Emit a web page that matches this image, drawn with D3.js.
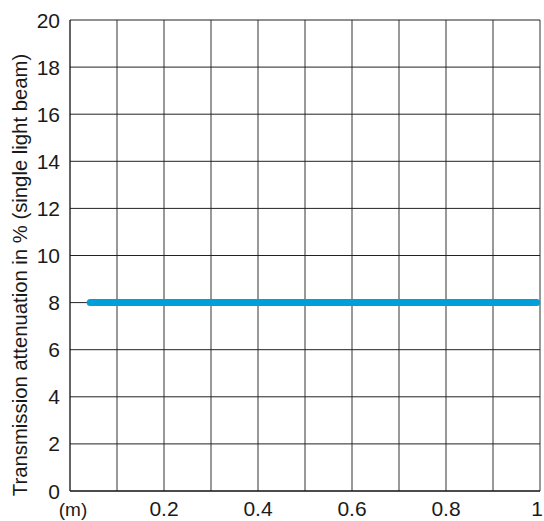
<!DOCTYPE html>
<html><head><meta charset="utf-8">
<script src="https://cdn.jsdelivr.net/npm/d3@7"></script>
<style>body{margin:0;background:#fff}text{font-family:"Liberation Sans",Arial,sans-serif;fill:#1a1a1a}</style>
</head><body><svg id="c" width="544" height="521"></svg>
<script>
const xTicks = [0.2, 0.4, 0.6, 0.8, 1];
const xGrid = [0.1,0.2,0.3,0.4,0.5,0.6,0.7,0.8,0.9,1];
const yTicks = [0,2,4,6,8,10,12,14,16,18,20];
const seriesX = [0.043, 0.993];
const seriesY = [8, 8];
const yLabel = "Transmission attenuation in % (single light beam)";
const xUnit = "(m)";

const svg = d3.select("#c");
const L=70, R=540, T=20, B=491;
const x = d3.scaleLinear().domain([0,1]).range([L,R]);
const y = d3.scaleLinear().domain([0,20]).range([B,T]);

svg.append("g").selectAll("line").data(xGrid).join("line")
  .attr("x1",d=>x(d)).attr("x2",d=>x(d)).attr("y1",T).attr("y2",B)
  .attr("stroke","#555").attr("stroke-width",1.2);
svg.append("g").selectAll("line").data(yTicks.filter(d=>d>0)).join("line")
  .attr("x1",L).attr("x2",R).attr("y1",d=>y(d)).attr("y2",d=>y(d))
  .attr("stroke","#222").attr("stroke-width",1);
svg.append("line").attr("x1",L).attr("x2",R).attr("y1",B).attr("y2",B).attr("stroke","#111").attr("stroke-width",1.3);
svg.append("line").attr("x1",L).attr("x2",L).attr("y1",T).attr("y2",B).attr("stroke","#111").attr("stroke-width",1.3);

svg.append("g").selectAll("text").data(yTicks).join("text")
  .attr("x",60).attr("y",d=>y(d)+7.5).attr("text-anchor","end").attr("font-size",21).text(d=>d);
svg.append("g").selectAll("text").data(xTicks).join("text")
  .attr("x",d=>d===1 ? x(d)+3 : x(d)).attr("y",516)
  .attr("text-anchor",d=>d===1 ? "end" : "middle").attr("font-size",21).text(d=>d);
svg.append("text").attr("x",73).attr("y",516).attr("text-anchor","middle").attr("font-size",19).text(xUnit);
svg.append("text").attr("transform",`translate(27,275) rotate(-90)`).attr("text-anchor","middle")
  .attr("font-size",20.3).text(yLabel);

const line = d3.line().x((d,i)=>x(seriesX[i])).y(d=>y(d));
svg.append("path").attr("d",line(seriesY)).attr("fill","none").attr("stroke","#009fda")
  .attr("stroke-width",7).attr("stroke-linecap","round");
</script></body></html>
